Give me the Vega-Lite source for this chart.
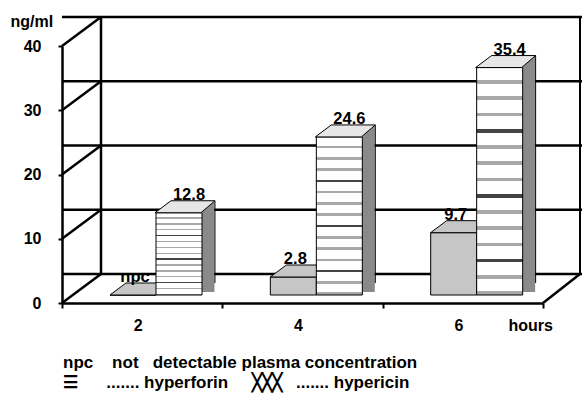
{
  "$schema": "https://vega.github.io/schema/vega-lite/v6.json",
  "width": 481,
  "height": 257,
  "autosize": {"type": "none"},
  "padding": {"left": 62, "top": 46, "right": 39, "bottom": 95},
  "background": "white",
  "config": {
    "view": {"stroke": null},
    "font": "Liberation Sans",
    "text": {"font": "Liberation Sans"}
  },
  "title": {
    "text": [
      "npc\u00a0\u00a0\u00a0\u00a0not\u00a0\u00a0\u00a0detectable plasma concentration",
      "☰\u00a0\u00a0\u00a0\u00a0\u00a0\u00a0....... hyperforin\u00a0\u00a0\u00a0\u00a0\u00a0╳╳╳\u00a0\u00a0\u00a0....... hypericin"
    ],
    "orient": "bottom",
    "anchor": "start",
    "frame": "group",
    "align": "left",
    "baseline": "alphabetic",
    "dx": 1,
    "offset": 35,
    "fontSize": 17,
    "fontWeight": "bold",
    "font": "Liberation Sans",
    "color": "black",
    "lineHeight": 20
  },
  "datasets": {
    "bars": [
      {"hours": "2", "series": "hypericin", "value": 0, "label": "npc"},
      {"hours": "2", "series": "hyperforin", "value": 12.8, "label": "12.8"},
      {"hours": "4", "series": "hypericin", "value": 2.8, "label": "2.8"},
      {"hours": "4", "series": "hyperforin", "value": 24.6, "label": "24.6"},
      {"hours": "6", "series": "hypericin", "value": 9.7, "label": "9.7"},
      {"hours": "6", "series": "hyperforin", "value": 35.4, "label": "35.4"}
    ],
    "ticks": [{"value": 0}, {"value": 10}, {"value": 20}, {"value": 30}, {"value": 40}]
  },
  "layer": [
    {
      "data": {"name": "ticks"},
      "mark": {"type": "rule", "color": "black", "strokeWidth": 2.5, "xOffset": 39, "x2Offset": 38, "yOffset": -29},
      "encoding": {
        "y": {"field": "value", "type": "quantitative", "scale": {"domain": [0, 40], "nice": false},
          "axis": {"values": [0, 10, 20, 30, 40], "grid": false, "domainColor": "black", "domainWidth": 2.5, "tickColor": "black", "tickWidth": 2, "tickSize": 4, "labelFont": "Liberation Sans", "labelFontWeight": "bold", "labelFontSize": 16, "labelColor": "black", "labelPadding": 17, "title": "ng/ml", "titleAngle": 0, "titleX": -52, "titleY": -20, "titleAlign": "left", "titleBaseline": "alphabetic", "titleFont": "Liberation Sans", "titleFontSize": 16, "titleFontWeight": "bold", "titleColor": "black"}}
      }
    },
    {
      "data": {"name": "ticks"},
      "mark": {"type": "rule", "color": "black", "strokeWidth": 2.5, "x2Offset": 39, "y2Offset": -29},
      "encoding": {
        "x": {"datum": "2", "type": "ordinal", "bandPosition": 0},
        "x2": {"datum": "2", "bandPosition": 0},
        "y": {"field": "value", "type": "quantitative"},
        "y2": {"field": "value"}
      }
    },
    {
      "data": {"name": "ticks"},
      "transform": [{"filter": "datum.value == 0"}],
      "layer": [
        {
          "mark": {"type": "rule", "color": "black", "strokeWidth": 2.5, "xOffset": 39, "yOffset": -29, "y2Offset": -29},
          "encoding": {
            "x": {"datum": "2", "type": "ordinal", "bandPosition": 0},
            "y": {"datum": 0, "type": "quantitative"},
            "y2": {"datum": 40}
          }
        },
        {
          "mark": {"type": "rule", "color": "black", "strokeWidth": 2, "xOffset": 37, "yOffset": -29, "y2Offset": -29},
          "encoding": {
            "x": {"datum": "6", "type": "ordinal", "bandPosition": 1},
            "y": {"datum": 0, "type": "quantitative"},
            "y2": {"datum": 40}
          }
        },
        {
          "mark": {"type": "rule", "color": "black", "strokeWidth": 2.5, "x2Offset": 37, "y2Offset": -29},
          "encoding": {
            "x": {"datum": "6", "type": "ordinal", "bandPosition": 1},
            "x2": {"datum": "6", "bandPosition": 1},
            "y": {"datum": 0, "type": "quantitative"},
            "y2": {"datum": 0}
          }
        }
      ]
    },
    {
      "data": {"name": "bars"},
      "transform": [{"filter": "datum.series == 'hypericin'"}],
      "mark": {"type": "bar", "fill": "#c6c6c6", "stroke": "black", "strokeWidth": 1, "yOffset": -8, "y2Offset": -8},
      "encoding": {
        "x": {"field": "hours", "type": "ordinal", "scale": {"domain": ["2", "4", "6"], "paddingInner": 0, "paddingOuter": 0},
          "axis": {"tickBand": "extent", "labelAngle": 0, "domainColor": "black", "domainWidth": 2.5, "tickColor": "black", "tickWidth": 2, "tickSize": 5, "labelPadding": 22, "labelBaseline": "alphabetic", "labelFont": "Liberation Sans", "labelFontWeight": "bold", "labelFontSize": 16, "labelColor": "black", "title": "hours", "titleX": 446, "titleY": 27, "titleAlign": "left", "titleBaseline": "alphabetic", "titleFont": "Liberation Sans", "titleFontSize": 16, "titleFontWeight": "bold", "titleColor": "black"}},
        "xOffset": {"field": "series", "type": "nominal", "scale": {"domain": ["hypericin", "hyperforin"], "paddingInner": 0, "paddingOuter": 0.7428, "align": 0.7025}},
        "y": {"field": "value", "type": "quantitative"}
      }
    },
    {
      "data": {"name": "bars"},
      "transform": [{"filter": "datum.series == 'hypericin'"}],
      "mark": {"type": "point", "shape": "M-1,0.2L0.5333,0.2L1,-0.2L-0.4667,-0.2Z", "size": 3600, "filled": true, "fill": "#c6c6c6", "stroke": "black", "strokeWidth": 1, "opacity": 1, "xOffset": -2.2, "yOffset": -14},
      "encoding": {
        "x": {"field": "hours", "type": "ordinal"},
        "y": {"field": "value", "type": "quantitative"}
      }
    },
    {
      "data": {"name": "bars"},
      "transform": [{"filter": "datum.series == 'hyperforin'"}],
      "mark": {"type": "rule", "color": "#8a8a8a", "strokeWidth": 13, "strokeCap": "butt", "xOffset": 65.8, "yOffset": -20, "y2Offset": -11},
      "encoding": {
        "x": {"field": "hours", "type": "ordinal"},
        "y": {"field": "value", "type": "quantitative"},
        "y2": {"datum": 0}
      }
    },
    {
      "data": {"name": "bars"},
      "transform": [{"filter": "datum.series == 'hyperforin'"}],
      "mark": {"type": "rule", "color": "black", "strokeWidth": 1, "xOffset": 72.8, "yOffset": -20, "y2Offset": -20},
      "encoding": {
        "x": {"field": "hours", "type": "ordinal"},
        "y": {"field": "value", "type": "quantitative"},
        "y2": {"datum": 0}
      }
    },
    {
      "data": {"name": "bars"},
      "transform": [{"filter": "datum.series == 'hyperforin'"}],
      "mark": {"type": "bar", "stroke": "black", "strokeWidth": 1, "yOffset": -8, "y2Offset": -8,
        "fill": {"gradient": "linear", "x1": 0, "y1": 0, "x2": 0, "y2": 1, "stops": [
          {"offset": 0, "color": "#ffffff"}, {"offset": 0.055, "color": "#ffffff"}, {"offset": 0.055, "color": "#a8a8a8"}, {"offset": 0.0714, "color": "#a8a8a8"},
          {"offset": 0.0714, "color": "#ffffff"}, {"offset": 0.1264, "color": "#ffffff"}, {"offset": 0.1264, "color": "#a8a8a8"}, {"offset": 0.1429, "color": "#a8a8a8"},
          {"offset": 0.1429, "color": "#ffffff"}, {"offset": 0.1979, "color": "#ffffff"}, {"offset": 0.1979, "color": "#a8a8a8"}, {"offset": 0.2143, "color": "#a8a8a8"},
          {"offset": 0.2143, "color": "#ffffff"}, {"offset": 0.2693, "color": "#ffffff"}, {"offset": 0.2693, "color": "#444444"}, {"offset": 0.2857, "color": "#444444"},
          {"offset": 0.2857, "color": "#ffffff"}, {"offset": 0.3407, "color": "#ffffff"}, {"offset": 0.3407, "color": "#a8a8a8"}, {"offset": 0.3571, "color": "#a8a8a8"},
          {"offset": 0.3571, "color": "#ffffff"}, {"offset": 0.4121, "color": "#ffffff"}, {"offset": 0.4121, "color": "#a8a8a8"}, {"offset": 0.4286, "color": "#a8a8a8"},
          {"offset": 0.4286, "color": "#ffffff"}, {"offset": 0.4836, "color": "#ffffff"}, {"offset": 0.4836, "color": "#a8a8a8"}, {"offset": 0.5, "color": "#a8a8a8"},
          {"offset": 0.5, "color": "#ffffff"}, {"offset": 0.555, "color": "#ffffff"}, {"offset": 0.555, "color": "#444444"}, {"offset": 0.5714, "color": "#444444"},
          {"offset": 0.5714, "color": "#ffffff"}, {"offset": 0.6264, "color": "#ffffff"}, {"offset": 0.6264, "color": "#a8a8a8"}, {"offset": 0.6429, "color": "#a8a8a8"},
          {"offset": 0.6429, "color": "#ffffff"}, {"offset": 0.6979, "color": "#ffffff"}, {"offset": 0.6979, "color": "#a8a8a8"}, {"offset": 0.7143, "color": "#a8a8a8"},
          {"offset": 0.7143, "color": "#ffffff"}, {"offset": 0.7693, "color": "#ffffff"}, {"offset": 0.7693, "color": "#a8a8a8"}, {"offset": 0.7857, "color": "#a8a8a8"},
          {"offset": 0.7857, "color": "#ffffff"}, {"offset": 0.8407, "color": "#ffffff"}, {"offset": 0.8407, "color": "#444444"}, {"offset": 0.8571, "color": "#444444"},
          {"offset": 0.8571, "color": "#ffffff"}, {"offset": 0.9121, "color": "#ffffff"}, {"offset": 0.9121, "color": "#a8a8a8"}, {"offset": 0.9286, "color": "#a8a8a8"},
          {"offset": 0.9286, "color": "#ffffff"}, {"offset": 0.9836, "color": "#ffffff"}, {"offset": 0.9836, "color": "#a8a8a8"}, {"offset": 1, "color": "#a8a8a8"}
        ]}},
      "encoding": {
        "x": {"field": "hours", "type": "ordinal"},
        "xOffset": {"field": "series", "type": "nominal"},
        "y": {"field": "value", "type": "quantitative"}
      }
    },
    {
      "data": {"name": "bars"},
      "transform": [{"filter": "datum.series == 'hyperforin'"}],
      "mark": {"type": "point", "shape": "M-1,0.2L0.5333,0.2L1,-0.2L-0.4667,-0.2Z", "size": 3600, "filled": true, "fill": "#e6e6e6", "stroke": "black", "strokeWidth": 1, "opacity": 1, "xOffset": 42.8, "yOffset": -14},
      "encoding": {
        "x": {"field": "hours", "type": "ordinal"},
        "y": {"field": "value", "type": "quantitative"}
      }
    },
    {
      "data": {"name": "bars"},
      "transform": [{"filter": "datum.series == 'hypericin'"}],
      "mark": {"type": "text", "font": "Liberation Sans", "fontSize": 16.5, "fontWeight": "bold", "color": "black", "baseline": "alphabetic", "align": "center", "dx": 2, "dy": -21},
      "encoding": {
        "x": {"field": "hours", "type": "ordinal"},
        "xOffset": {"field": "series", "type": "nominal"},
        "y": {"field": "value", "type": "quantitative"},
        "text": {"field": "label"}
      }
    },
    {
      "data": {"name": "bars"},
      "transform": [{"filter": "datum.series == 'hyperforin'"}],
      "mark": {"type": "text", "font": "Liberation Sans", "fontSize": 16.5, "fontWeight": "bold", "color": "black", "baseline": "alphabetic", "align": "center", "dx": 10, "dy": -21},
      "encoding": {
        "x": {"field": "hours", "type": "ordinal"},
        "xOffset": {"field": "series", "type": "nominal"},
        "y": {"field": "value", "type": "quantitative"},
        "text": {"field": "label"}
      }
    }
  ]
}
